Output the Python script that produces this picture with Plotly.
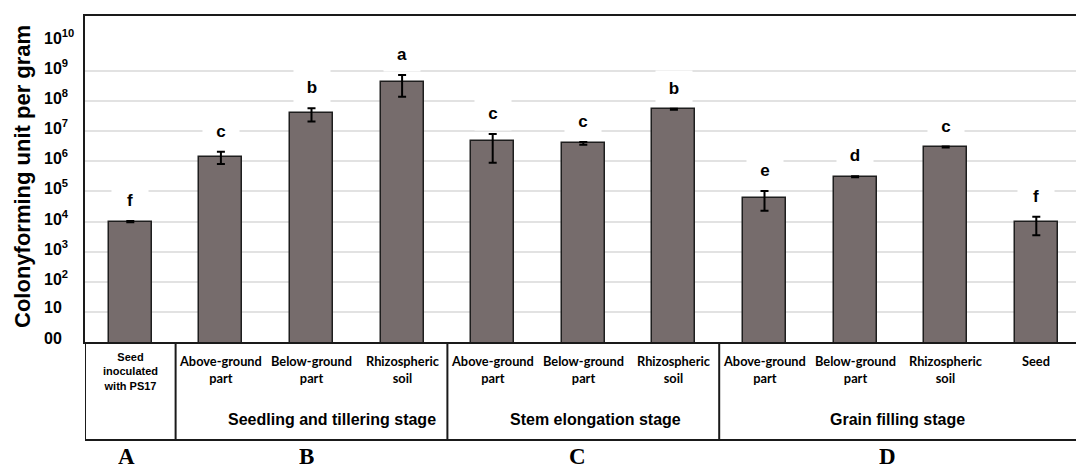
import math
import plotly.graph_objects as go

# ---------------- data ----------------
categories = ["Seed<br>inoculated<br>with PS17",
              "Above-ground<br>part", "Below-ground<br>part", "Rhizospheric<br>soil",
              "Above-ground<br>part", "Below-ground<br>part", "Rhizospheric<br>soil",
              "Above-ground<br>part", "Below-ground<br>part", "Rhizospheric<br>soil",
              "Seed"]
cfu_values = [1.0e4, 1.4e6, 4.0e7, 4.3e8, 4.8e6, 4.0e6, 5.4e7, 6.2e4, 3.1e5, 3.0e6, 9.5e3]
err_plus = [5e2, 7.0e5, 1.8e7, 3.1e8, 3.3e6, 4.0e5, 2.0e6, 4.2e4, 1.0e4, 1.0e5, 5.0e3]
err_minus = [5e2, 5.8e5, 1.9e7, 2.9e8, 3.9e6, 4.0e5, 2.0e6, 3.9e4, 1.0e4, 1.0e5, 6.0e3]
sig_letters = ["f", "c", "b", "a", "c", "c", "b", "e", "d", "c", "f"]

stage_names = ["Seedling and tillering stage", "Stem elongation stage", "Grain filling stage"]
stage_label_x = [2.23, 5.14, 8.47]
stage_bounds = [0.5, 3.5, 6.5]
panel_letters = ["A", "B", "C", "D"]
panel_letter_x = [-0.04, 1.95, 4.94, 8.36]

tick_vals = [1, 10, 1e2, 1e3, 1e4, 1e5, 1e6, 1e7, 1e8, 1e9, 1e10]
tick_text = ["00", "10", "10<sup>2</sup>", "10<sup>3</sup>", "10<sup>4</sup>", "10<sup>5</sup>",
             "10<sup>6</sup>", "10<sup>7</sup>", "10<sup>8</sup>", "10<sup>9</sup>", "10<sup>10</sup>"]

# ---------------- layout constants ----------------
W, H = 1076, 468
ML, MR, MT, MB = 85, 0, 16, 126
plot_w = W - ML - MR
plot_h = H - MT - MB
slot_px = 90.6
x_max = -0.5 + plot_w / slot_px
y_top_log = 10.83

def py(p):  # pixel y -> paper y
    return (H - MB - p) / plot_h

def px(p):  # pixel x -> paper x
    return (p - ML) / plot_w

x_pos = list(range(len(cfu_values)))
table_bottom = py(440)

fig = go.Figure()
fig.add_trace(go.Bar(
    x=x_pos, y=cfu_values, width=0.475,
    marker=dict(color="#766c6c", line=dict(color="#1e1e1e", width=1.5)),
    error_y=dict(type="data", symmetric=False, array=err_plus, arrayminus=err_minus,
                 color="#000000", thickness=2, width=4),
    showlegend=False,
))

AR = "Arial, Liberation Sans, sans-serif"
annotations = []
# significance letters
for i, (v, e, t) in enumerate(zip(cfu_values, err_plus, sig_letters)):
    annotations.append(dict(x=i, y=math.log10(v + e), xref="x", yref="y", text="<b>" + t + "</b>",
                            showarrow=False, yanchor="middle", yshift=21,
                            width=36, height=34, bgcolor="white", borderpad=0,
                            font=dict(family=AR, size=17, color="#000000")))
# y tick labels (left aligned)
for v, t in zip(tick_vals, tick_text):
    annotations.append(dict(x=px(43), y=math.log10(v), xref="paper", yref="y", text="<b>" + t + "</b>",
                            showarrow=False, xanchor="left", yanchor="middle", yshift=4,
                            align="left", borderpad=0,
                            font=dict(family=AR, size=16, color="#000000")))
# y title
annotations.append(dict(x=px(22), y=py(177), xref="paper", yref="paper",
                        text="<b>Colonyforming unit per gram</b>", textangle=-90,
                        showarrow=False, xanchor="center", yanchor="middle",
                        font=dict(family=AR, size=22, color="#000000")))
# category labels
for i, c in enumerate(categories):
    if i == 0:
        annotations.append(dict(x=i, y=py(349), xref="x", yref="paper", text="<b>" + c + "</b>",
                                showarrow=False, yanchor="top", align="center",
                                font=dict(family=AR, size=11, color="#000000")))
    else:
        annotations.append(dict(x=i, y=py(351), xref="x", yref="paper", text="<b>" + c + "</b>",
                                showarrow=False, yanchor="top", align="center",
                                font=dict(family="Lato, Carlito, sans-serif", size=12.8,
                                          color="#000000")))
# stage labels
for name, xs in zip(stage_names, stage_label_x):
    annotations.append(dict(x=xs, y=py(419), xref="x", yref="paper", text="<b>" + name + "</b>",
                            showarrow=False, yanchor="middle",
                            font=dict(family=AR, size=16, color="#000000")))
# panel letters
for name, xs in zip(panel_letters, panel_letter_x):
    annotations.append(dict(x=xs, y=py(456), xref="x", yref="paper", text="<b>" + name + "</b>",
                            showarrow=False, yanchor="middle", height=22,
                            font=dict(family="Liberation Serif, Times New Roman, serif", size=23,
                                      color="#000000")))

shapes = []
LINE = dict(color="#1a1a1a", width=2)
# left axis extension into table
shapes.append(dict(type="line", xref="x", yref="paper", x0=-0.5, x1=-0.5, y0=0, y1=table_bottom,
                   line=LINE))
for b in stage_bounds:
    shapes.append(dict(type="line", xref="x", yref="paper", x0=b, x1=b, y0=0, y1=table_bottom,
                       line=LINE))
shapes.append(dict(type="line", xref="x", yref="paper", x0=-0.5, x1=x_max, y0=table_bottom,
                   y1=table_bottom, line=LINE))

fig.update_layout(
    width=W, height=H,
    margin=dict(l=ML, r=MR, t=MT, b=MB, pad=0),
    paper_bgcolor="white", plot_bgcolor="white",
    annotations=annotations, shapes=shapes,
    bargap=0,
    xaxis=dict(range=[-0.5, x_max], showticklabels=False, showgrid=False, zeroline=False,
               showline=True, linecolor="#1a1a1a", linewidth=2, mirror=True, ticks=""),
    yaxis=dict(type="log", range=[0, y_top_log], tickvals=tick_vals[:-1], showticklabels=False,
               showgrid=True, gridcolor="#e2e2e2", gridwidth=1.5, zeroline=False,
               showline=True, linecolor="#1a1a1a", linewidth=2, ticks=""),
)

fig.write_html("out.html", config={"displayModeBar": False},
               post_script="document.body.style.margin='0px';document.body.style.overflow='hidden';")
